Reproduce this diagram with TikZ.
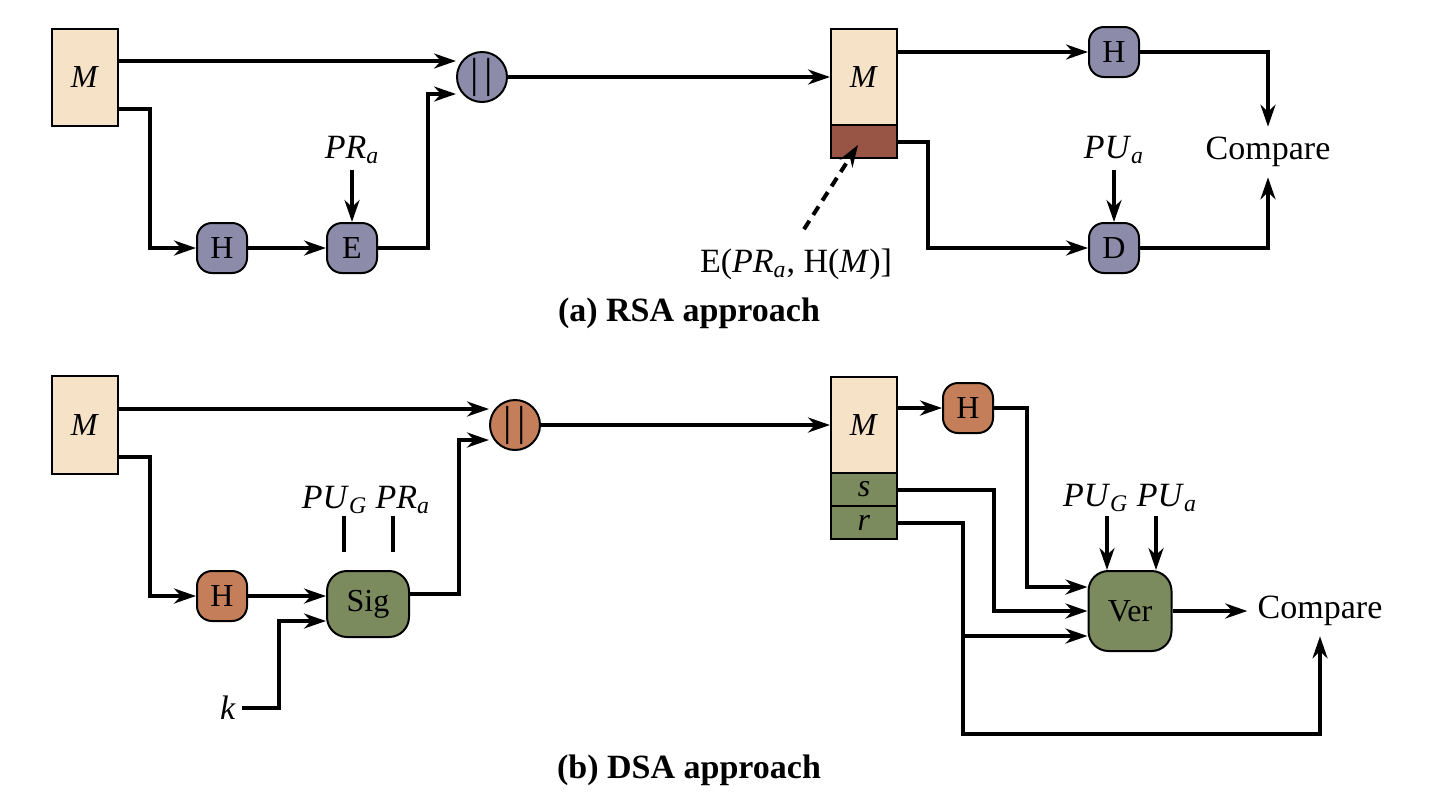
\documentclass[tikz,border=0pt]{standalone}
\usepackage{fontspec}
\setmainfont{Liberation Serif}
\usetikzlibrary{arrows.meta}
\definecolor{msgfill}{HTML}{F5E2C7}
\definecolor{rsafill}{HTML}{8C8BAA}
\definecolor{sigfill}{HTML}{985545}
\definecolor{dsafill}{HTML}{C47F5A}
\definecolor{grnfill}{HTML}{7B8B5E}
\tikzset{
  msg/.style={draw, line width=1pt, fill=msgfill, minimum width=33pt,
    inner sep=0pt, font=\fontsize{16}{19}\selectfont},
  hfun/.style={draw, line width=1pt, rounded corners=7.5pt, minimum width=25pt,
    minimum height=25pt, inner sep=0pt, font=\fontsize{16}{19}\selectfont},
  concat/.style={circle, draw, line width=1pt, minimum size=25pt, inner sep=0pt,
    font=\fontsize{21}{24}\selectfont},
  flow/.style={line width=2pt, ->},
  lbl/.style={font=\fontsize{17}{20}\selectfont, inner sep=3pt},
  cmp/.style={lbl, inner sep=5pt},
  figcap/.style={font=\fontsize{17}{20}\selectfont\bfseries}
}
\begin{document}
\begin{tikzpicture}[x=0.5pt,y=-0.5pt,>={Stealth[length=11pt,width=7.5pt]}]
\useasboundingbox (0,0) rectangle (1440,809);
% (a) RSA approach
\node[msg, minimum height=48.5pt] (M1) at (85,77) {\textit{M}};
\node[concat, fill=rsafill] (cat1) at (482,77) {|\hspace{3pt}|};
\node[hfun, fill=rsafill] (H1) at (222,248) {H};
\node[hfun, fill=rsafill] (E1) at (352,248) {E};
\node[lbl] (PR1) at (352,150) {\textit{PR}\textsubscript{\textit{a}}};
\node[msg, minimum height=48.5pt] (M2) at (864,77) {\textit{M}};
\node[msg, fill=sigfill, minimum height=16.5pt] (S2) at (864,141.5) {};
\node[hfun, fill=rsafill] (H2) at (1114,52) {H};
\node[hfun, fill=rsafill] (D2) at (1114,248) {D};
\node[lbl] (PU2) at (1114,150) {\textit{PU}\textsubscript{\textit{a}}};
\node[cmp] (cmp1) at (1268,152) {Compare};
\node[lbl] (Elab) at (796,264) {E(\textit{PR}\textsubscript{\textit{a}}, H(\textit{M})]};
\node[figcap] (capa) at (689,313) {(a) RSA approach};

\draw[flow] ([yshift=8pt]M1.east) -- ([yshift=8pt]cat1.west);
\draw[flow] ([yshift=-16pt]M1.east) -- ++(31,0) |- (H1);
\draw[flow] (H1) -- (E1);
\draw[flow] (PR1) -- (E1);
\draw[flow] (E1.east) -- ++(50,0) |- ([yshift=-8.5pt]cat1.west);
\draw[flow] (cat1) -- (M2);
\draw[flow] ([yshift=12.5pt]M2.east) -- (H2);
\draw[flow] (H2.east) -| (cmp1);
\draw[flow] (S2.east) -- ++(30,0) |- (D2);
\draw[flow] (PU2) -- (D2);
\draw[flow] (D2.east) -| (cmp1);
\draw[flow, dash pattern=on 5pt off 3.5pt] ([xshift=4pt,yshift=6.5pt]Elab.north)
  -- ([xshift=-3pt,yshift=-1.75pt]S2.center);

% (b) DSA approach
\node[msg, minimum height=49pt] (M4) at (85,425) {\textit{M}};
\node[concat, fill=dsafill] (cat2) at (515,425) {|\hspace{3pt}|};
\node[hfun, fill=dsafill] (H4) at (222,596) {H};
\node[hfun, fill=grnfill, minimum width=41pt, minimum height=33pt,
  rounded corners=10pt] (Sig) at (368,604) {Sig};
\node[lbl] (keys4) at (366,500)
  {\textit{PU}\textsubscript{\textit{G}} \textit{PR}\textsubscript{\textit{a}}};
\node[lbl] (k) at (228,708) {\textit{k}};
\node[msg, minimum height=48pt] (M3) at (864,425) {\textit{M}};
\node[msg, fill=grnfill, minimum height=16.5pt] (s3) at (864,489.5) {\textit{s}};
\node[msg, fill=grnfill, minimum height=16.5pt] (r3) at (864,522.5) {\textit{r}};
\node[hfun, fill=dsafill] (H3) at (968,408) {H};
\node[hfun, fill=grnfill, minimum width=41.5pt, minimum height=40pt,
  rounded corners=10pt] (Ver) at (1130,611) {Ver};
\node[lbl] (keys3) at (1130,498)
  {\textit{PU}\textsubscript{\textit{G}} \textit{PU}\textsubscript{\textit{a}}};
\node[cmp] (cmp2) at (1320,611) {Compare};
\node[figcap] (capb) at (689,770) {(b) DSA approach};

\draw[flow] ([yshift=8pt]M4.east) -- ([yshift=8pt]cat2.west);
\draw[flow] ([yshift=-16pt]M4.east) -- ++(31,0) |- (H4);
\draw[flow] (H4.east) -- (H4 -| Sig.west);
\draw[flow] (k.east) -- ++(37,0) |- ([yshift=-8.5pt]Sig.west);
\draw[flow] ([yshift=5pt]Sig.east) -- ++(49,0) |- ([yshift=-7.5pt]cat2.west);
\foreach \dx in {-12pt,12.5pt}
  \draw[line width=2pt] ([xshift=\dx,yshift=9pt]Sig.north) -- ([xshift=\dx,yshift=27pt]Sig.north);
\draw[flow] (cat2) -- (M3);
\draw[flow] ([yshift=8.5pt]M3.east) -- (H3);
\draw[flow] (H3.east) -- ++(33,0) |- ([yshift=12pt]Ver.west);
\draw[flow] (s3.east) -- ++(96,0) |- (Ver);
\draw[flow] (r3.east) -- ++(65,0) coordinate (rj) -- ++(0,211) -| (cmp2);
\coordinate (vr) at ([yshift=-12.5pt]Ver.west);
\draw[flow] (rj |- vr) -- (vr);
\foreach \dx in {-11.5pt,13pt}
  \draw[flow] ([xshift=\dx,yshift=27pt]Ver.north) -- ([xshift=\dx]Ver.north);
\draw[flow] (Ver) -- (cmp2);
\end{tikzpicture}
\end{document}
